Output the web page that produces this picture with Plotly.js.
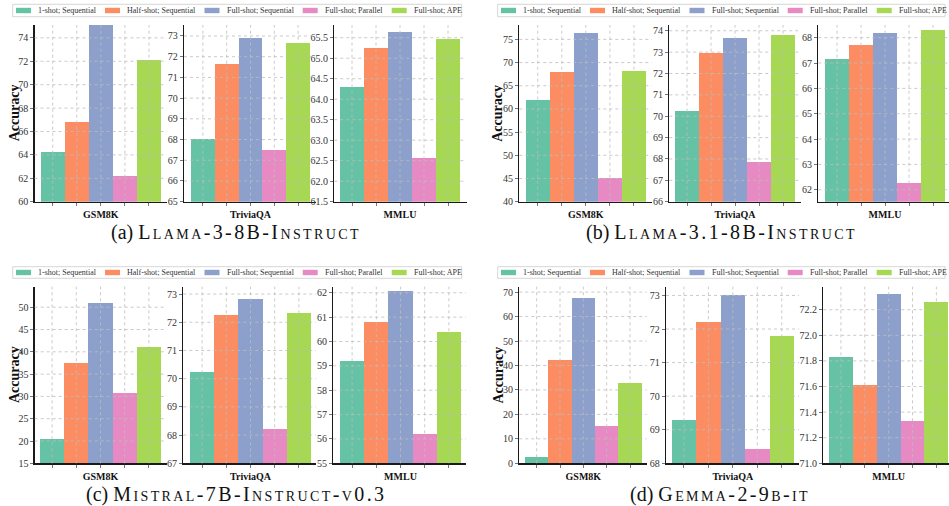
<!DOCTYPE html>
<html><head><meta charset="utf-8">
<script src="https://cdn.plot.ly/plotly-3.0.1.min.js"></script>
<style>html,body{margin:0;padding:0;background:#fff}#chart{width:949px;height:506px}</style>
</head><body><div id="chart"></div>
<script>
// ---------- data ----------
const series = ['1-shot; Sequential','Half-shot; Sequential','Full-shot; Sequential','Full-shot; Parallel','Full-shot; APE'];
const seriesColors = ['#66c2a5','#fc8d62','#8da0cb','#e78ac3','#a6d854'];
const datasets = ['GSM8K','TriviaQA','MMLU'];
const panelTags = ['(a)','(b)','(c)','(d)'];
const models = ['Llama-3-8B-Instruct','Llama-3.1-8B-Instruct','Mistral-7B-Instruct-v0.3','Gemma-2-9b-it'];
const yTitle = 'Accuracy';

// accuracy values, in series order
const llama3_gsm8k   = [64.24, 66.80, 75.60, 62.20, 72.10];
const llama3_trivia  = [68.03, 71.65, 72.90, 67.50, 72.68];
const llama3_mmlu    = [64.30, 65.25, 65.64, 62.57, 65.47];
const llama31_gsm8k  = [61.90, 67.95, 76.40, 45.05, 68.20];
const llama31_trivia = [70.24, 72.97, 73.64, 67.86, 73.80];
const llama31_mmlu   = [67.15, 67.70, 68.17, 62.25, 68.30];
const mistral_gsm8k  = [20.45, 37.50, 50.90, 30.70, 41.10];
const mistral_trivia = [70.24, 72.25, 72.83, 68.22, 72.32];
const mistral_mmlu   = [59.20, 60.80, 62.07, 56.20, 60.39];
const gemma_gsm8k    = [2.60, 42.20, 67.60, 15.20, 32.80];
const gemma_trivia   = [69.29, 72.20, 73.00, 68.43, 71.79];
const gemma_mmlu     = [71.83, 71.61, 72.32, 71.33, 72.26];

const valuesGrid = [
  [llama3_gsm8k, llama3_trivia, llama3_mmlu],
  [llama31_gsm8k, llama31_trivia, llama31_mmlu],
  [mistral_gsm8k, mistral_trivia, mistral_mmlu],
  [gemma_gsm8k, gemma_trivia, gemma_mmlu]
];

// ---------- layout / style config (pixels) ----------
const W = 949, H = 506;
const FONT = '"Liberation Serif", "Times New Roman", serif';
const rowPx = [[25, 201.7], [25, 201.7], [286.7, 463.3], [286.7, 463.3]];
const domPx = [
  [[34.5,166.7],[184,315.5],[334.3,466.5]],
  [[519.3,651.7],[669.3,801],[818.3,949]],
  [[34.7,166.7],[183.3,316],[333.3,466]],
  [[519.3,646.7],[666,799],[823.3,949]]
];
const barPx = [
  [[40.7,161],[191,310],[340,460]],
  [[525.7,646],[675,795],[825,945]],
  [[40,161],[190,311],[340,461]],
  [[525,641.7],[671.7,794],[829,948.3]]
];
const yCfg = [
  [{r:[60,75.1],d:2},{r:[65,73.53],d:1},{r:[61.5,65.81],d:0.5,f:'.1f'}],
  [{r:[40,78.1],d:5},{r:[66,74.27],d:1},{r:[61.53,68.5],d:1}],
  [{r:[15,54.6],d:5},{r:[67,73.26],d:1},{r:[55,62.25],d:1}],
  [{r:[0,72.2],d:10},{r:[68,73.26],d:1},{r:[71.0,72.38],d:0.2,f:'.1f'}]
];
const legendBox = [[12.7,4.3,449,12.4],[497.7,4.3,447.3,12.4],[12.7,266.7,449,11.6],[497.7,266.7,447.3,11.6]];
const legendItemOffset = [3.3, 92.3, 191.8, 290, 379];
const captionPos = [[236,232.5],[721,232.5],[236,494],[720,494]];
const yTitleX = [14, 497.5, 14, 497.5];

const px = v => v / W;
const py = v => 1 - v / H;
const gridLine = {color:'#bdbdbd', width:0.8, dash:'dot'};

const traces = [];
const layout = {
  width: W, height: H, margin:{l:0,r:0,t:0,b:0},
  paper_bgcolor:'#fff', plot_bgcolor:'#fff',
  bargap:0, bargroupgap:0, showlegend:false,
  font:{family:FONT, color:'#262626'},
  shapes:[], annotations:[]
};

let k = 0;
for (let m = 0; m < 4; m++) {
  for (let d = 0; d < 3; d++) {
    k++;
    const sfx = k === 1 ? '' : String(k);
    const xa = 'x' + sfx, ya = 'y' + sfx;
    traces.push({
      type:'bar', x: series, y: valuesGrid[m][d], xaxis: xa, yaxis: ya,
      marker:{color: seriesColors, line:{width:0}}, showlegend:false,
      hovertemplate:'%{x}: %{y}<extra>' + datasets[d] + '</extra>'
    });
    const dp = domPx[m][d], bp = barPx[m][d];
    const u = series.length / (bp[1] - bp[0]);
    const yc = yCfg[m][d];
    layout['xaxis' + sfx] = {
      domain:[px(dp[0]), px(dp[1])], anchor: ya, type:'category',
      range:[-0.5 - (bp[0]-dp[0])*u, series.length - 0.5 + (dp[1]-bp[1])*u],
      tickmode:'array', tickvals: series,
      ticktext: series.map((s,i) => i === 2 ? datasets[d] : ''),
      ticks:'outside', ticklen:3, tickwidth:0.8, tickcolor:'#555',
      tickfont:{size:10, weight:'bold', color:'#111', family:FONT},
      showgrid:false, zeroline:false, showline:true, linecolor:'#1a1a1a', linewidth:1.3,
      fixedrange:true
    };
    layout['yaxis' + sfx] = {
      domain:[py(rowPx[m][1]), py(rowPx[m][0])], anchor: xa,
      range: yc.r, tick0:0, dtick: yc.d, tickformat: yc.f || '',
      ticks:'outside', ticklen:3, tickwidth:0.8, tickcolor:'#555',
      tickfont:{size:10, color:'#333', family:FONT},
      showgrid:false, zeroline:false, showline:true, linecolor:'#1a1a1a', linewidth:1.3,
      fixedrange:true
    };
    // grid lines drawn above the bars, as in the reference
    series.forEach(s => layout.shapes.push({
      type:'line', xref: xa, yref: ya + ' domain', x0:s, x1:s, y0:0, y1:1,
      line: gridLine, layer:'above'
    }));
    const first = Math.ceil(yc.r[0]/yc.d - 1e-9) * yc.d;
    for (let v = first; v <= yc.r[1] + 1e-9; v += yc.d) {
      if (Math.abs(v - yc.r[0]) < 1e-6) continue;
      layout.shapes.push({
        type:'line', xref: xa + ' domain', yref: ya, x0:0, x1:1, y0:v, y1:v,
        line: gridLine, layer:'above'
      });
    }
  }
  // y title
  layout.annotations.push({
    text: yTitle, xref:'paper', yref:'paper', x: px(yTitleX[m]),
    y: py((rowPx[m][0] + rowPx[m][1]) / 2), textangle:-90, showarrow:false,
    xanchor:'center', yanchor:'middle',
    font:{family:FONT, size:14, weight:'bold', color:'#111'}
  });
  // caption
  layout.annotations.push({
    text: '<span style="font-variant:normal">' + panelTags[m] + '</span> ' +
          '<span style="letter-spacing:2.4px">' + models[m] + '</span>',
    xref:'paper', yref:'paper', x: px(captionPos[m][0]), y: py(captionPos[m][1]),
    showarrow:false, xanchor:'center', yanchor:'middle',
    font:{family:FONT, size:20, variant:'small-caps', color:'#111'}
  });
  // legend (one per panel)
  const lb = legendBox[m];
  layout.shapes.push({
    type:'rect', xref:'paper', yref:'paper', x0:px(lb[0]), x1:px(lb[0]+lb[2]), y0:py(lb[1]+lb[3]), y1:py(lb[1]),
    line:{color:'#cccccc', width:0.8}, fillcolor:'rgba(255,255,255,0.9)', layer:'above'
  });
  const cy = lb[1] + lb[3]/2;
  series.forEach((s, i) => {
    const sx = lb[0] + legendItemOffset[i];
    layout.shapes.push({
      type:'rect', xref:'paper', yref:'paper', x0:px(sx), x1:px(sx+15), y0:py(cy+2.7), y1:py(cy-2.7),
      line:{width:0}, fillcolor: seriesColors[i], layer:'above'
    });
    layout.annotations.push({
      text: s, xref:'paper', yref:'paper', x: px(sx + 20), y: py(cy), showarrow:false,
      xanchor:'left', yanchor:'middle', font:{family:FONT, size:8, color:'#333'}
    });
  });
}

Plotly.newPlot('chart', traces, layout, {displayModeBar:false, staticPlot:true});
</script>
</body></html>
